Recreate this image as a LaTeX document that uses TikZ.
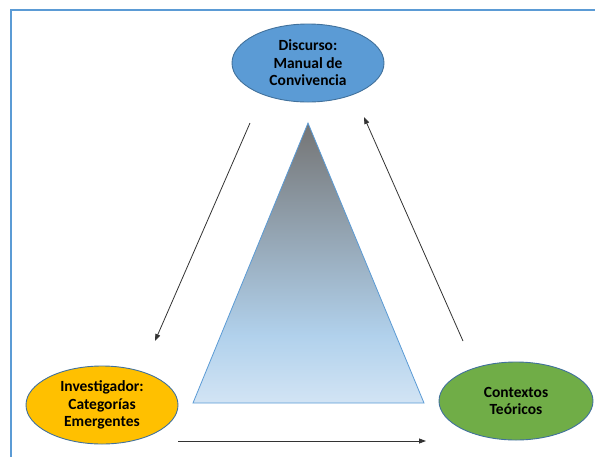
\documentclass[tikz,border=0pt]{standalone}
\usepackage{fontspec}
\setmainfont{Carlito}
\usetikzlibrary{arrows.meta,shapes.geometric}
\definecolor{frameblue}{HTML}{5B9BD5}
\definecolor{edgeblue}{HTML}{41719C}
\definecolor{discblue}{HTML}{5B9BD5}
\definecolor{invyellow}{HTML}{FFC000}
\definecolor{ctxgreen}{HTML}{70AD47}
\definecolor{triA}{HTML}{747474}
\definecolor{triB}{HTML}{B1D1EC}
\definecolor{triC}{HTML}{D2E4F4}
\pgfdeclareverticalshading{trishade}{100bp}{color(0bp)=(triC); color(25bp)=(triC); color(37bp)=(triB); color(75bp)=(triA); color(100bp)=(triA)}
\tikzset{
  bubble/.style={ellipse, draw=edgeblue, line width=0.9pt, minimum width=152pt, minimum height=78pt,
    inner sep=0pt, align=center, font=\fontsize{15.5}{17.6}\selectfont\bfseries, text=black},
  link/.style={draw=black!80, line width=0.8pt, -{Triangle[length=7pt,width=5pt]}}
}
\begin{document}
\begin{tikzpicture}[x=1pt,y=-1pt]
\useasboundingbox (0,0) rectangle (595,456);
\clip (0,0) rectangle (595,456);
\draw[frameblue, line width=2pt] (10.5,9.5) rectangle (620,480);
\shade[shading=trishade, draw=frameblue, line width=0.8pt] (308,123) -- (424,403) -- (193,403) -- cycle;
\node[bubble, fill=discblue] (disc) at (308,63) {Discurso:\\Manual de\\Convivencia};
\node[bubble, fill=invyellow] (inv) at (102,405) {Investigador:\\Categorías\\Emergentes};
\node[bubble, fill=ctxgreen, minimum width=154pt] (ctx) at (516,401) {Contextos\\Teóricos};
\coordinate (a1) at (250,123);
\coordinate (a2) at (155,341);
\coordinate (b1) at (178,441);
\coordinate (b2) at (426,441);
\coordinate (c1) at (463,341);
\coordinate (c2) at (364,117);
\draw[link] (a1) -- (a2);
\draw[link] (b1) -- (b2);
\draw[link] (c1) -- (c2);
\end{tikzpicture}
\end{document}
